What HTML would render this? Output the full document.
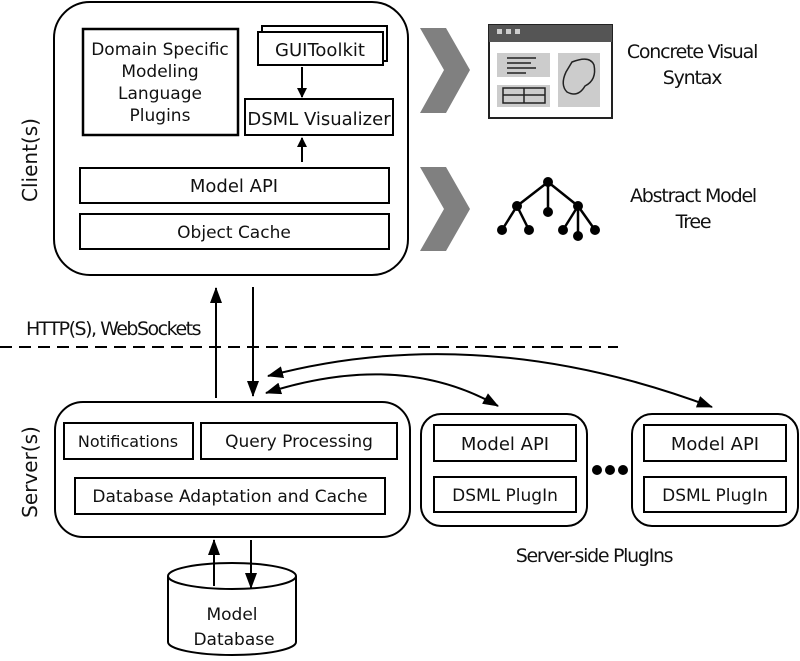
<!DOCTYPE html>
<html><head><style>
body{margin:0;background:#fff;}
svg{display:block;font-family:"DejaVu Sans","Liberation Sans",sans-serif;}
</style></head><body>
<svg width="800" height="661" viewBox="0 0 800 661" xmlns="http://www.w3.org/2000/svg">
<defs>
<marker id="a" markerWidth="10" markerHeight="10" refX="9" refY="5" orient="auto" markerUnits="userSpaceOnUse"><path d="M0,0 L10,5 L0,10 z" fill="#000"/></marker>
<marker id="b" markerWidth="16" markerHeight="12" refX="15" refY="6" orient="auto-start-reverse" markerUnits="userSpaceOnUse"><path d="M0,0 L16,6 L0,12 z" fill="#000"/></marker>
</defs>
<g fill="none" stroke="#000" stroke-width="2">
<rect x="54" y="2" width="354" height="273" rx="36"/>
<rect x="83" y="29" width="155" height="106" stroke-width="2.5"/>
<rect x="262" y="26" width="125" height="35" fill="#fff"/>
<rect x="258" y="32" width="125" height="33" fill="#fff"/>
<rect x="245" y="99" width="148" height="36"/>
<rect x="80" y="168" width="309" height="35"/>
<rect x="80" y="214" width="309" height="35"/>
<rect x="55" y="402" width="355" height="135" rx="28"/>
<rect x="64" y="423" width="129" height="36"/>
<rect x="201" y="423" width="196" height="36"/>
<rect x="75" y="478" width="310" height="36"/>
<rect x="421" y="414" width="166" height="112" rx="20"/>
<rect x="434" y="425" width="142" height="36"/>
<rect x="434" y="477" width="142" height="35"/>
<rect x="632" y="414" width="166" height="112" rx="20"/>
<rect x="644" y="425" width="142" height="36"/>
<rect x="644" y="477" width="142" height="35"/>
</g>
<g stroke="#000" stroke-width="2" fill="none">
<line x1="302" y1="67" x2="302" y2="97" marker-end="url(#a)"/>
<line x1="302" y1="162" x2="302" y2="138" marker-end="url(#a)"/>
<line x1="216" y1="398" x2="216" y2="288" marker-end="url(#b)"/>
<line x1="253" y1="287" x2="253" y2="396" marker-end="url(#b)"/>
<line x1="0" y1="347" x2="618" y2="347" stroke-dasharray="12,7"/>
<path d="M266,393 Q400,350 498,406" marker-start="url(#b)" marker-end="url(#b)"/>
<path d="M268,376 Q480,320 712,407" marker-start="url(#b)" marker-end="url(#b)"/>
</g>
<g fill="#000"><circle cx="597" cy="470" r="5"/><circle cx="610" cy="470" r="5"/><circle cx="623" cy="470" r="5"/></g>
<path d="M168,576 L168,642 A64,13 0 0 0 296,642 L296,576" fill="#fff" stroke="#000" stroke-width="2"/>
<ellipse cx="232" cy="576" rx="64" ry="13" fill="#fff" stroke="#000" stroke-width="2"/>
<line x1="214" y1="586" x2="214" y2="540" stroke="#000" stroke-width="2" marker-end="url(#b)"/>
<line x1="251" y1="540" x2="251" y2="588" stroke="#000" stroke-width="2" marker-end="url(#b)"/>
<g fill="#808080"><path d="M420,28 L446,28 L470,70 L446,113 L420,113 L444,70 z"/><path d="M420,167 L446,167 L470,209 L446,251 L420,251 L444,209 z"/></g>
<rect x="489" y="25" width="123" height="93" fill="#fff" stroke="#222" stroke-width="2"/>
<rect x="489" y="25" width="123" height="17" fill="#555"/>
<g fill="#ccc"><rect x="497" y="29" width="5" height="5"/><rect x="506" y="29" width="5" height="5"/><rect x="515" y="29" width="5" height="5"/><rect x="497" y="53" width="53" height="24"/><rect x="497" y="85" width="53" height="22"/><rect x="558" y="53" width="42" height="54"/></g>
<g stroke="#222" stroke-width="1.5" fill="none"><line x1="507" y1="58" x2="536" y2="58"/><line x1="507" y1="63" x2="531" y2="63"/><line x1="507" y1="68" x2="536" y2="68"/><line x1="507" y1="73" x2="526" y2="73"/><rect x="503" y="88" width="42" height="15"/><line x1="503" y1="95" x2="545" y2="95"/><line x1="524" y1="88" x2="524" y2="103"/><path d="M572,62 Q590,55 594,65 Q597,80 585,86 Q578,98 567,92 Q560,85 566,72 Z"/></g>
<g stroke="#000" stroke-width="2.5"><line x1="548" y1="182" x2="517" y2="206"/><line x1="548" y1="182" x2="548" y2="212"/><line x1="548" y1="182" x2="578" y2="206"/><line x1="517" y1="206" x2="502" y2="230"/><line x1="517" y1="206" x2="529" y2="230"/><line x1="578" y1="206" x2="563" y2="230"/><line x1="578" y1="206" x2="578" y2="236"/><line x1="578" y1="206" x2="595" y2="230"/></g>
<g fill="#000"><circle cx="548" cy="182" r="5"/><circle cx="517" cy="206" r="5"/><circle cx="548" cy="212" r="5"/><circle cx="578" cy="206" r="5"/><circle cx="502" cy="230" r="5"/><circle cx="529" cy="230" r="5"/><circle cx="563" cy="230" r="5"/><circle cx="578" cy="236" r="5"/><circle cx="595" cy="230" r="5"/></g>
<g font-size="17" text-anchor="middle" fill="#111">
<text x="160" y="55">Domain Specific</text><text x="160" y="77">Modeling</text><text x="160" y="99">Language</text><text x="160" y="121">Plugins</text>
<text x="320" y="56" font-size="18">GUIToolkit</text>
<text x="319" y="125" font-size="18">DSML Visualizer</text>
<text x="234" y="192" font-size="18">Model API</text>
<text x="234" y="238" font-size="17">Object Cache</text>
<text x="128" y="447" font-size="16">Notifications</text>
<text x="299" y="447" font-size="17">Query Processing</text>
<text x="230" y="502" font-size="17">Database Adaptation and Cache</text>
<text x="505" y="450" font-size="18">Model API</text>
<text x="505" y="501" font-size="17">DSML PlugIn</text>
<text x="715" y="450" font-size="18">Model API</text>
<text x="715" y="501" font-size="17">DSML PlugIn</text>
<text x="232" y="620" font-size="17">Model</text>
<text x="234" y="645" font-size="17">Database</text>
<text x="692" y="58" font-size="19" letter-spacing="-1.2">Concrete Visual</text>
<text x="692" y="84" font-size="19" letter-spacing="-1.2">Syntax</text>
<text x="693" y="202" font-size="19" letter-spacing="-1.2">Abstract Model</text>
<text x="693" y="228" font-size="19" letter-spacing="-1.2">Tree</text>
<text x="594" y="562" font-size="19" letter-spacing="-1.3">Server-side PlugIns</text>
<text x="113" y="335" font-size="19" letter-spacing="-1.5">HTTP(S), WebSockets</text>
<text transform="translate(37,160) rotate(-90)" font-size="20">Client(s)</text>
<text transform="translate(37,472) rotate(-90)" font-size="20">Server(s)</text>
</g>
</svg>
</body></html>
